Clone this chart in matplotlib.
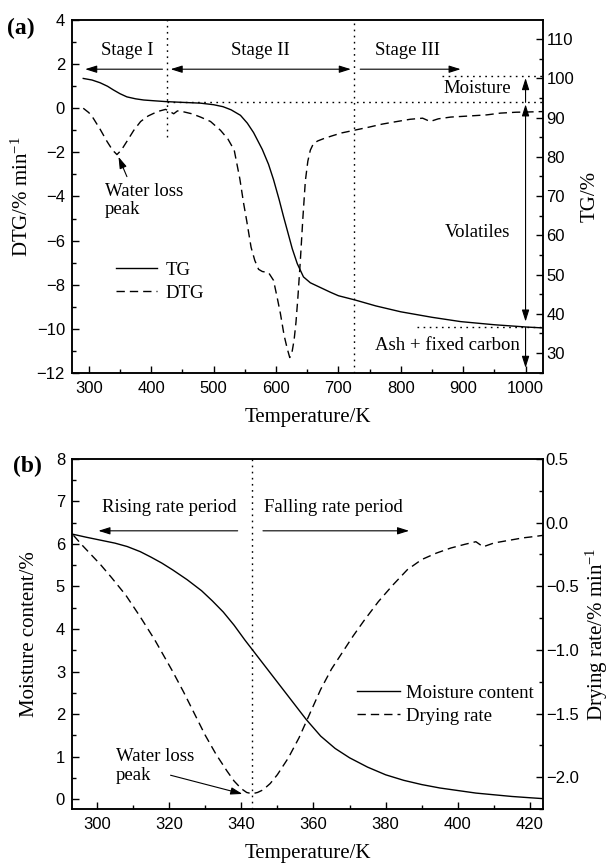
import matplotlib.pyplot as plt
from matplotlib.ticker import MultipleLocator

plt.rcParams["font.family"] = "Liberation Serif"
plt.rcParams["mathtext.fontset"] = "custom"
plt.rcParams["mathtext.rm"] = "Liberation Serif"
plt.rcParams["mathtext.it"] = "Liberation Serif:italic"

# ---------------------------------------------------------------
# (a) TG / DTG data, temperature in K
# ---------------------------------------------------------------

tg_temp = [291, 305, 318, 330, 339, 350, 361, 375, 388, 405, 423, 450,
           479, 500, 515, 528, 543, 554, 564, 578, 588, 596, 605, 612,
           618, 626, 634, 644, 655, 671, 687, 700, 727, 760, 800, 850,
           896, 950, 1003, 1027]
tg_value = [100.0, 99.6, 98.9, 98.0, 97.1, 96.1, 95.3, 94.8, 94.5, 94.3,
            94.1, 93.9, 93.7, 93.3, 92.8, 92.0, 90.6, 88.6, 86.2, 81.9,
            78.1, 74.2, 69.1, 64.8, 61.3, 56.6, 52.8, 49.4, 47.9, 46.7,
            45.5, 44.6, 43.5, 42.0, 40.5, 39.1, 38.0, 37.2, 36.6, 36.4]

dtg_temp = [291, 300, 307, 318, 329, 338, 345, 352, 361, 372, 383, 395,
            410, 423, 430, 436, 442, 450, 465, 479, 495, 511, 523, 533,
            542, 548, 553, 560, 566, 572, 578, 588, 596, 602, 607, 613,
            618, 622, 626, 629, 632, 635, 639, 643, 647, 651, 655, 660,
            667, 677, 690, 705, 725, 750, 770, 790, 815, 835, 847, 860,
            880, 910, 938, 960, 985, 1003, 1028]
dtg_value = [0.0, -0.2, -0.45, -0.95, -1.5, -1.9, -2.1, -1.9, -1.5, -1.0,
             -0.6, -0.35, -0.15, -0.05, -0.15, -0.25, -0.12, -0.15, -0.25,
             -0.4, -0.6, -1.0, -1.4, -1.9, -3.2, -4.3, -5.1, -6.3, -6.9,
             -7.3, -7.4, -7.45, -7.8, -8.6, -9.3, -10.3, -10.9, -11.3,
             -11.0, -10.5, -9.7, -8.6, -6.9, -5.0, -3.3, -2.4, -1.9, -1.6,
             -1.48, -1.37, -1.25, -1.12, -1.0, -0.85, -0.72, -0.62, -0.5,
             -0.45, -0.6, -0.48, -0.4, -0.35, -0.3, -0.22, -0.18, -0.17,
             -0.15]

stage_bounds = [425, 725]
moisture_level = 93.9
start_level = 100.7
residue_level = 36.5

# ---------------------------------------------------------------
# (b) moisture content / drying rate
# ---------------------------------------------------------------

mc_temp = [293.3, 297, 301, 305, 308.4, 312, 315, 318, 321, 325, 329, 332,
           335, 338, 341, 343, 347, 351, 355, 358, 362, 366, 370, 375, 380,
           385, 390, 395, 400, 405, 410, 415, 420, 423.5]
mc_value = [6.23, 6.16, 6.09, 6.02, 5.94, 5.82, 5.69, 5.55, 5.39, 5.16,
            4.90, 4.66, 4.40, 4.09, 3.74, 3.52, 3.08, 2.64, 2.20, 1.87,
            1.48, 1.19, 0.97, 0.75, 0.57, 0.44, 0.34, 0.26, 0.20, 0.14,
            0.10, 0.06, 0.03, 0.01]

dr_temp = [293.5, 296, 298, 301, 304, 308, 312, 316, 319, 321, 324, 327,
           330, 333, 336, 338, 340, 341.5, 343, 344.5, 346, 348, 350, 353,
           356, 359, 362, 365, 368, 371, 374, 378, 382, 386, 390, 394, 398,
           402, 405, 407, 410, 414, 418, 421, 423.6]
dr_value = [-0.10, -0.18, -0.24, -0.33, -0.43, -0.57, -0.74, -0.92, -1.07,
            -1.17, -1.33, -1.50, -1.67, -1.82, -1.95, -2.03, -2.09, -2.12,
            -2.13, -2.12, -2.10, -2.05, -1.98, -1.85, -1.69, -1.50, -1.31,
            -1.15, -1.02, -0.89, -0.77, -0.62, -0.49, -0.37, -0.29, -0.24,
            -0.20, -0.17, -0.15, -0.19, -0.16, -0.14, -0.12, -0.11, -0.10]

period_bound = 343

DASHED = (0, (6, 3.6))
DOTTED = (0, (1.2, 3.2))
TEXT_SIZE = 13.5
LABEL_SIZE = 15
TICK_SIZE = 12


def style_axis(ax, pad):

    ax.tick_params(
        axis="both", which="both", direction="in",
        labelsize=TICK_SIZE, labelfontfamily="Liberation Sans",
        width=1.0
    )
    ax.tick_params(which="major", length=5)
    ax.tick_params(which="minor", length=3)
    ax.tick_params(axis="y", pad=pad)
    ax.tick_params(axis="x", pad=6)

    for s in ax.spines.values():
        s.set_linewidth(1.1)


def arrow(ax, start, end, style="-|>"):

    ax.annotate(
        "",
        xy=end,
        xytext=start,
        arrowprops=dict(
            arrowstyle=style + ",head_length=0.7,head_width=0.22",
            color="black",
            lw=0.8,
            mutation_scale=10,
            shrinkA=0,
            shrinkB=0
        )
    )


fig = plt.figure(figsize=(6.14, 8.66), dpi=100)

# ---------------------------------------------------------------
# Panel (a)
# ---------------------------------------------------------------

ax = fig.add_axes([0.1173, 0.5693, 0.7671, 0.4076])
ax2 = ax.twinx()

dtg_line, = ax.plot(dtg_temp, dtg_value, color="black", lw=1.0,
                    linestyle=DASHED)
tg_line, = ax2.plot(tg_temp, tg_value, color="black", lw=1.0)

ax.set_xlim(273, 1028)
ax.set_ylim(-12, 4)
ax2.set_ylim(24.9, 114.9)

ax.xaxis.set_major_locator(MultipleLocator(100))
ax.xaxis.set_minor_locator(MultipleLocator(50))
ax.yaxis.set_major_locator(MultipleLocator(2))
ax.yaxis.set_minor_locator(MultipleLocator(1))
ax2.yaxis.set_major_locator(MultipleLocator(10))
ax2.yaxis.set_minor_locator(MultipleLocator(5))

style_axis(ax, 5)
style_axis(ax2, 2.5)

ax.set_xlabel("Temperature/K", fontsize=LABEL_SIZE)
ax.set_ylabel("DTG/% min$^{-1}$", fontsize=LABEL_SIZE)
ax2.set_ylabel("TG/%", fontsize=LABEL_SIZE)
ax.xaxis.set_label_coords(0.5, -0.125)
ax.xaxis.label.set_va("center")
ax.yaxis.set_label_coords(-0.105, 0.5)
ax.yaxis.label.set_va("center")
ax2.yaxis.set_label_coords(1.10, 0.5)
ax2.yaxis.label.set_va("center")

# stage separators and level guides
ax.plot([stage_bounds[0]] * 2, [-1.3, 4], color="black", lw=1.0,
        linestyle=DOTTED)
ax.plot([stage_bounds[1]] * 2, [-12, 4], color="black", lw=1.0,
        linestyle=DOTTED)
ax2.plot([stage_bounds[0], 1028], [moisture_level] * 2, color="black",
         lw=1.0, linestyle=DOTTED)
ax2.plot([866, 1028], [start_level] * 2, color="black", lw=1.0,
         linestyle=DOTTED)
ax2.plot([826, 1028], [residue_level] * 2, color="black", lw=1.0,
         linestyle=DOTTED)

arrow(ax, (418, 1.77), (294, 1.77))
arrow(ax, (431, 1.77), (720, 1.77), style="<|-|>")
arrow(ax, (735, 1.77), (896, 1.77))

ax.text(362, 2.64, "Stage I", fontsize=TEXT_SIZE, ha="center", va="center")
ax.text(575, 2.64, "Stage II", fontsize=TEXT_SIZE, ha="center",
        va="center")
ax.text(811, 2.64, "Stage III", fontsize=TEXT_SIZE, ha="center",
        va="center")

arrow(ax2, (1000, moisture_level), (1000, start_level - 0.6))
arrow(ax2, (1000, residue_level + 1.5), (1000, moisture_level - 0.5),
      style="<|-|>")
arrow(ax2, (1000, residue_level), (1000, 26.2))

ax2.text(923, 97.4, "Moisture", fontsize=TEXT_SIZE, ha="center",
         va="center")
ax2.text(923, 60.6, "Volatiles", fontsize=TEXT_SIZE, ha="center",
         va="center")
ax2.text(874, 32, "Ash + fixed carbon", fontsize=TEXT_SIZE, ha="center",
         va="center")

ax.text(326, -4.18, "Water loss\npeak", fontsize=TEXT_SIZE, ha="left",
        va="center", linespacing=1.1)
arrow(ax, (361, -3.1), (347.5, -2.2))

ax2.legend(
    [tg_line, dtg_line], ["TG", "DTG"],
    loc="upper left", bbox_to_anchor=(0.093, 0.315),
    frameon=False, fontsize=TEXT_SIZE, handlelength=2.2,
    handletextpad=0.45, labelspacing=0.3, borderpad=0, borderaxespad=0
)

fig.text(7 / 614, 1 - 34 / 866, "(a)", fontsize=17, fontweight="bold",
         ha="left", va="baseline")

# ---------------------------------------------------------------
# Panel (b)
# ---------------------------------------------------------------

bx = fig.add_axes([0.1173, 0.0658, 0.7671, 0.4042])
bx2 = bx.twinx()

mc_line, = bx.plot(mc_temp, mc_value, color="black", lw=1.0)
dr_line, = bx2.plot(dr_temp, dr_value, color="black", lw=1.0,
                    linestyle=DASHED)

bx.set_xlim(293.1, 423.6)
bx.set_ylim(-0.235, 8)
bx2.set_ylim(-2.25, 0.5)

bx.xaxis.set_major_locator(MultipleLocator(20))
bx.xaxis.set_minor_locator(MultipleLocator(10))
bx.yaxis.set_major_locator(MultipleLocator(1))
bx.yaxis.set_minor_locator(MultipleLocator(0.5))
bx2.yaxis.set_major_locator(MultipleLocator(0.5))
bx2.yaxis.set_minor_locator(MultipleLocator(0.25))

style_axis(bx, 5)
style_axis(bx2, 2)

bx.set_xlabel("Temperature/K", fontsize=LABEL_SIZE)
bx.set_ylabel("Moisture content/%", fontsize=LABEL_SIZE)
bx2.set_ylabel("Drying rate/% min$^{-1}$", fontsize=LABEL_SIZE)
bx.xaxis.set_label_coords(0.5, -0.126)
bx.xaxis.label.set_va("center")
bx.yaxis.set_label_coords(-0.091, 0.5)
bx.yaxis.label.set_va("center")
bx2.yaxis.set_label_coords(1.114, 0.5)
bx2.yaxis.label.set_va("center")

bx.plot([period_bound] * 2, [-0.235, 8], color="black", lw=1.0,
        linestyle=DOTTED)

arrow(bx, (339, 6.31), (300.4, 6.31))
arrow(bx, (346, 6.31), (386.5, 6.31))

bx.text(320, 6.85, "Rising rate period", fontsize=TEXT_SIZE, ha="center",
        va="center")
bx.text(365.5, 6.85, "Falling rate period", fontsize=TEXT_SIZE,
        ha="center", va="center")

bx.text(305.3, 0.78, "Water loss\npeak", fontsize=TEXT_SIZE, ha="left",
        va="center", linespacing=1.1)
arrow(bx, (320.4, 0.56), (340.3, 0.12))

bx2.legend(
    [mc_line, dr_line], ["Moisture content", "Drying rate"],
    loc="upper left", bbox_to_anchor=(0.605, 0.355),
    frameon=False, fontsize=TEXT_SIZE, handlelength=2.3,
    handletextpad=0.3, labelspacing=0.3, borderpad=0, borderaxespad=0
)

fig.text(12.7 / 614, 1 - 472 / 866, "(b)", fontsize=17, fontweight="bold",
         ha="left", va="baseline")

fig.savefig("out.png", dpi=100)
